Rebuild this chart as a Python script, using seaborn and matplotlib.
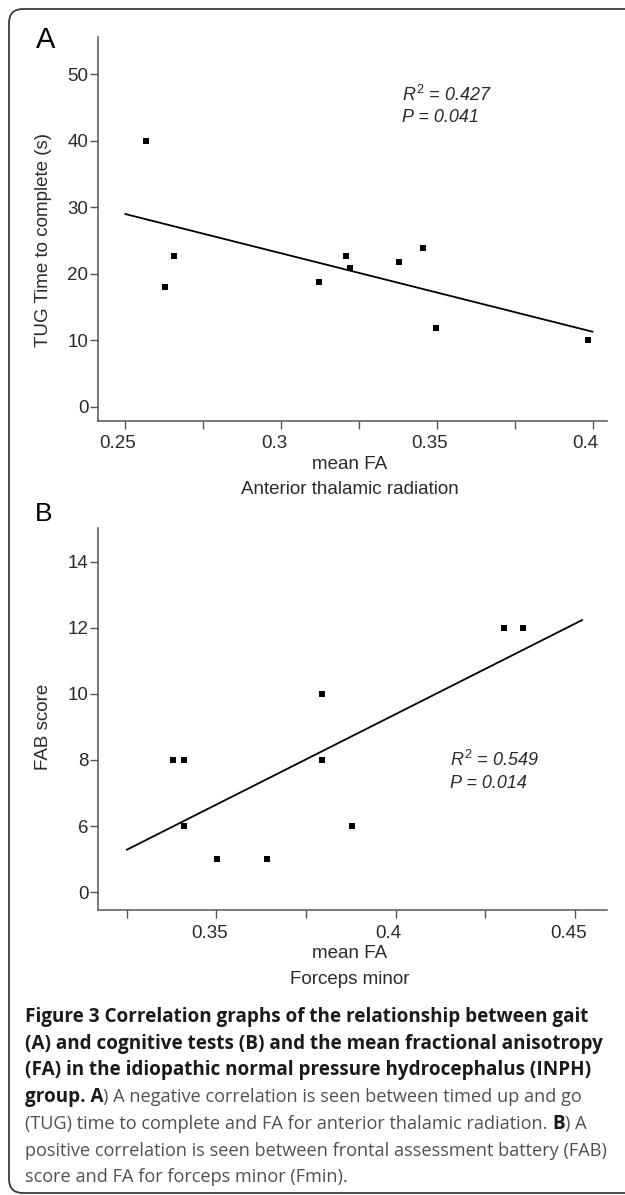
import numpy as np
import pandas as pd
import seaborn as sns
import matplotlib.pyplot as plt
from matplotlib.patches import FancyBboxPatch
from matplotlib.ticker import MultipleLocator, FixedLocator, FixedFormatter
from matplotlib.transforms import ScaledTranslation

# Panel A: gait (TUG) vs mean FA of anterior thalamic radiation
fa_atr = [0.2567, 0.2629, 0.2657, 0.3121, 0.3209, 0.3222, 0.3379, 0.3456, 0.3497, 0.3984]
tug_time = [40.0, 18.0, 22.7, 18.8, 22.7, 20.8, 21.7, 23.9, 11.9, 10.0]

# Panel B: FAB score vs mean FA of forceps minor
fa_fmin = [0.3379, 0.3409, 0.3409, 0.3503, 0.3640, 0.3794, 0.3794, 0.3878, 0.4303, 0.4355]
fab_score = [8, 8, 6, 5, 5, 10, 8, 6, 12, 12]
fab_tick_pos = [4, 6, 8, 10, 12, 14]
fab_tick_lbl = ['0', '6', '8', '10', '12', '14']

stats_a = ['$R^2$ = 0.427', 'P = 0.041']
stats_b = ['$R^2$ = 0.549', 'P = 0.014']

caption = [
    [("Figure 3 Correlation graphs of the relationship between gait", "bold")],
    [("(A) and cognitive tests (B) and the mean fractional anisotropy", "bold")],
    [("(FA) in the idiopathic normal pressure hydrocephalus (INPH)", "bold")],
    [("group. A", "bold"), (") A negative correlation is seen between timed up and go", "normal")],
    [("(TUG) time to complete and FA for anterior thalamic radiation.", "normal"), (" B", "bold"), (") A", "normal")],
    [("positive correlation is seen between frontal assessment battery (FAB)", "normal")],
    [("score and FA for forceps minor (Fmin).", "normal")],
]

W, H, DPI = 625, 1195, 100

sns.set_style('ticks')
plt.rcParams['font.family'] = ['Liberation Sans', 'DejaVu Sans']
plt.rcParams['mathtext.fontset'] = 'custom'
plt.rcParams['mathtext.it'] = 'Liberation Sans:italic'
plt.rcParams['mathtext.rm'] = 'Liberation Sans'

fig = plt.figure(figsize=(W / DPI, H / DPI), dpi=DPI)
inch = fig.dpi_scale_trans


def px(x, y):
    return x / DPI, (H - y) / DPI


# rounded frame around the whole figure
frame = FancyBboxPatch(px(9, 1193), 8.0, (1193 - 9) / DPI,
                       boxstyle='round,pad=0,rounding_size=0.14',
                       transform=inch, fill=False, lw=1.3, ec='#3a3a3a')
fig.patches.append(frame)

axA = fig.add_axes([98 / W, 1 - 420.7 / H, 509 / W, 383.7 / H])
axB = fig.add_axes([98 / W, 1 - 910 / H, 509 / W, 382.3 / H])

dfA = pd.DataFrame({'fa': fa_atr, 'tug': tug_time})
dfB = pd.DataFrame({'fa': fa_fmin, 'fab': fab_score})

scat = dict(s=22, color='black', linewidths=0, alpha=1)
line = dict(color='black', lw=1.3)

# fit line spans a fixed FA range, so preset xlim before regplot
axA.set_xlim(0.25, 0.40)
sns.regplot(data=dfA, x='fa', y='tug', ax=axA, ci=None, truncate=False,
            marker='s', scatter_kws=scat, line_kws=line)
axB.set_xlim(0.325, 0.452)
sns.regplot(data=dfB, x='fa', y='fab', ax=axB, ci=None, truncate=False,
            marker='s', scatter_kws=scat, line_kws=line)

axA.set_xlim(0.2413, 0.4046)
axA.set_ylim(-2.1, 55.6)
axA.yaxis.set_major_locator(MultipleLocator(10))
axA.xaxis.set_major_locator(FixedLocator([0.25, 0.3, 0.35, 0.4]))
axA.xaxis.set_major_formatter(FixedFormatter(['0.25', '0.3', '0.35', '0.4']))
axA.xaxis.set_minor_locator(FixedLocator([0.275, 0.325, 0.375]))

axB.set_xlim(0.317, 0.4589)
axB.set_ylim(3.46, 15.03)
axB.yaxis.set_major_locator(FixedLocator(fab_tick_pos))
axB.yaxis.set_major_formatter(FixedFormatter(fab_tick_lbl))
axB.xaxis.set_major_locator(FixedLocator([0.35, 0.4, 0.45]))
axB.xaxis.set_major_formatter(FixedFormatter(['0.35', '0.4', '0.45']))
axB.xaxis.set_minor_locator(FixedLocator([0.325, 0.375, 0.425]))

for ax, ylab, xlab, ymid in [(axA, 'TUG Time to complete (s)', 'mean FA\nAnterior thalamic radiation', 25),
                              (axB, 'FAB score', 'mean FA\nForceps minor', 9)]:
    sns.despine(ax=ax)
    for s in ['left', 'bottom']:
        ax.spines[s].set_color('#555555')
        ax.spines[s].set_linewidth(1.1)
    ax.tick_params(which='both', direction='out', length=5.5, width=1.0,
                   color='#555555', labelcolor='#2a2a2a', labelsize=13.5)
    ax.tick_params(axis='y', pad=1.5)
    ax.tick_params(axis='x', which='both', pad=5)
    lo, hi = ax.get_ylim()
    ax.set_ylabel(ylab, fontsize=13.5, color='#2a2a2a')
    ax.yaxis.set_label_coords(-0.09, (ymid - lo) / (hi - lo))
    ax.set_xlabel(xlab, fontsize=13.5, color='#2a2a2a', linespacing=1.65, va='top')
    ax.xaxis.set_label_coords(0.495, -0.092)
    for lbl in ax.get_xticklabels():
        lbl.set_transform(lbl.get_transform() + ScaledTranslation(-7 / DPI, 0, inch))

# statistics
for ax, lines, x0, y0 in [(axA, stats_a, 402, 95), (axB, stats_b, 450, 760)]:
    for i, t in enumerate(lines):
        fig.text(*px(x0, y0 + 23 * i), t, transform=inch, fontsize=13, style='italic',
                 color='#2a2a2a', va='center', ha='left')

fig.text(*px(36, 40), 'A', transform=inch, fontsize=21, va='center', ha='left', color='black')
fig.text(*px(35, 514), 'B', transform=inch, fontsize=19, va='center', ha='left', color='black')

# caption with mixed bold / regular runs
renderer = fig.canvas.get_renderer()
for i, runs in enumerate(caption):
    x = 25
    y = 1017 + 26.7 * i
    for txt, wt in runs:
        col = '#1a1a1a' if wt == 'bold' else '#505050'
        size = 13.6 if wt == 'bold' else 13.1
        t = fig.text(*px(x, y), txt, transform=inch, fontsize=size, fontweight=wt,
                     family=['Open Sans', 'DejaVu Sans'], color=col, va='center', ha='left')
        x += t.get_window_extent(renderer).width

fig.savefig('out.png', dpi=DPI)
